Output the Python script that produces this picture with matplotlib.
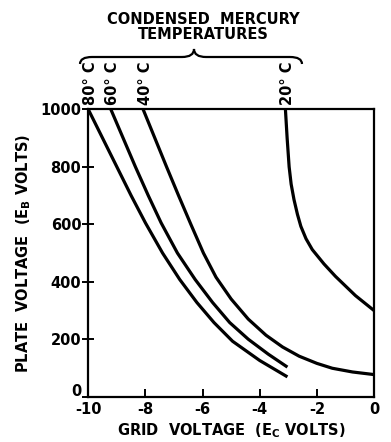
import numpy as np
import matplotlib
matplotlib.use('Agg')
import matplotlib.pyplot as plt
from matplotlib.path import Path
from matplotlib.patches import PathPatch
from matplotlib.transforms import ScaledTranslation

plt.rcParams['font.family'] = 'DejaVu Sans'
plt.rcParams['font.weight'] = 'bold'
plt.rcParams['mathtext.fontset'] = 'dejavusans'

# Curvas (tensión de grilla, tensión de placa)
x_80 = [-10.0, -9.5, -9.0, -8.5, -8.0, -7.4, -6.8, -6.2, -5.6, -4.95, -4.0, -3.03]
y_80 = [1000, 900, 800, 700, 605, 500, 408, 328, 258, 193, 126, 69]

x_60 = [-9.21, -8.78, -8.35, -7.9, -7.45, -6.88, -6.26, -5.65, -5.05, -4.4, -3.7, -3.03]
y_60 = [1000, 900, 800, 700, 605, 500, 408, 328, 258, 200, 148, 103]

x_40 = [-8.08, -7.67, -7.26, -6.84, -6.41, -5.97, -5.53, -5.0, -4.4, -3.78, -3.2, -2.62, -2.0, -1.46, -0.75, 0.0]
y_40 = [1000, 900, 800, 700, 600, 500, 416, 340, 270, 214, 173, 141, 116, 99, 86, 77]

x_20 = [-3.1, -3.04, -2.97, -2.9, -2.8, -2.68, -2.56, -2.38, -2.16, -1.75, -1.35, -0.65, 0.0]
y_20 = [1000, 900, 800, 740, 686, 635, 593, 550, 512, 462, 419, 352, 300]

curvas = [(x_80, y_80, '80° C'), (x_60, y_60, '60° C'), (x_40, y_40, '40° C'), (x_20, y_20, '20° C')]

fig = plt.figure(figsize=(3.91, 4.42), dpi=100)
ax = fig.add_axes([0.2258, 0.1025, 0.7307, 0.650])

for xs, ys, etiqueta in curvas:
    ax.plot(xs, ys, color='black', lw=2.3, solid_capstyle='butt', solid_joinstyle='round')
    ax.annotate(etiqueta, xy=(xs[0], 1000), xytext=(1.5, 3), textcoords='offset points',
                rotation=90, ha='center', va='bottom', fontsize=10.5, fontweight='bold',
                annotation_clip=False)

ax.set_xlim(-10, 0)
ax.set_ylim(0, 1000)
ax.set_xticks(np.arange(-10, 1, 2))
ax.set_yticks(np.arange(0, 1001, 200))
ax.set_xticklabels(['-10', '-8', '-6', '-4', '-2', '0'])
for s in ax.spines.values():
    s.set_linewidth(1.6)
ax.tick_params(axis='x', direction='in', length=6, width=1.4, labelsize=10.5, pad=4)
ax.tick_params(axis='y', direction='inout', length=8, width=1.4, labelsize=10.5, pad=1)
for lab in ax.get_xticklabels() + ax.get_yticklabels():
    lab.set_fontweight('bold')

# el "0" del eje y va un poco más arriba para no pisar el "-10"
lab0 = ax.get_yticklabels()[0]
lab0.set_transform(lab0.get_transform() + ScaledTranslation(0, 5 / 72, fig.dpi_scale_trans))

ax.set_xlabel(r'GRID  VOLTAGE  (E$_\mathbf{C}$ VOLTS)', fontsize=10.5, fontweight='bold', labelpad=3)
ax.set_ylabel(r'PLATE  VOLTAGE  (E$_\mathbf{B}$ VOLTS)', fontsize=10.5, fontweight='bold', labelpad=5)

# Llave sobre las etiquetas de temperatura (coordenadas de figura)
W, H = 391.0, 442.0
def fx(px):
    return px / W
def fy(py):
    return (H - py) / H

x0, x1, xc = 80, 302, 194
yb, ym, yt = 64, 57, 49
verts = [(x0, yb), (x0, ym), (x0 + 12, ym),
         (xc - 12, ym), (xc, ym), (xc, yt),
         (xc, ym), (xc + 12, ym),
         (x1 - 12, ym), (x1, ym), (x1, yb)]
codes = [Path.MOVETO, Path.CURVE3, Path.CURVE3,
         Path.LINETO, Path.CURVE3, Path.CURVE3,
         Path.CURVE3, Path.CURVE3,
         Path.LINETO, Path.CURVE3, Path.CURVE3]
verts = [(fx(a), fy(b)) for a, b in verts]
llave = PathPatch(Path(verts, codes), transform=fig.transFigure, fill=False, lw=1.6, color='black')
fig.patches.append(llave)

fig.text(fx(203), fy(27), 'CONDENSED  MERCURY\nTEMPERATURES', ha='center', va='center',
         fontsize=10.5, fontweight='bold', linespacing=0.95)

plt.savefig('out.png', dpi=100)
